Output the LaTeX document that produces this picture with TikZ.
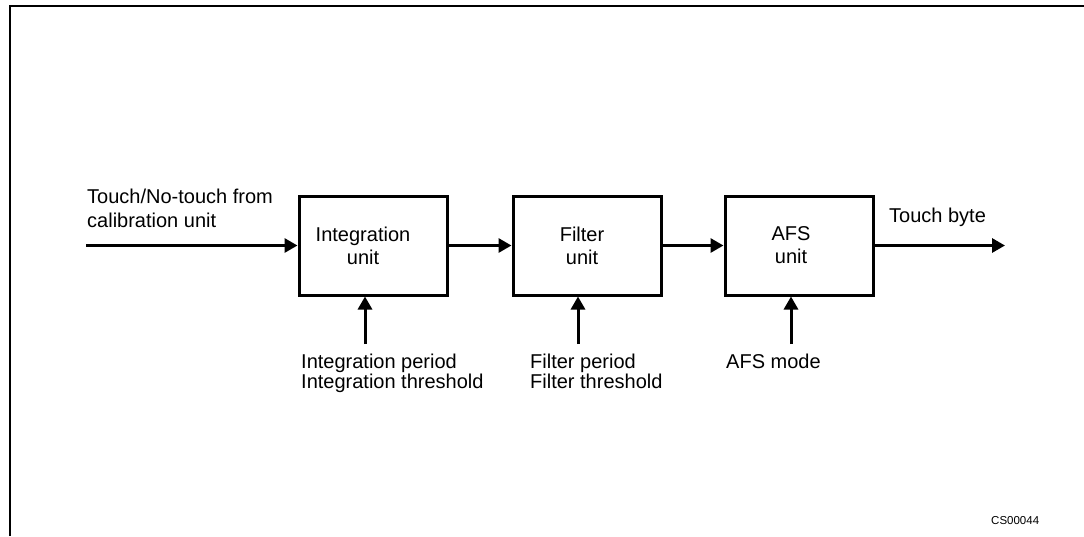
\documentclass[tikz,border=0pt]{standalone}
\usepackage{fontspec}
\setmainfont{Liberation Sans}
\usetikzlibrary{arrows.meta,positioning,calc}
\tikzset{
  unitbox/.style={draw, line width=3pt, minimum width=148pt, minimum height=99pt, inner sep=0pt},
  boxtext/.style={align=center, inner sep=0pt, font=\fontsize{20}{23}\selectfont},
  lbl/.style={align=left, inner sep=0pt, anchor=north west, font=\fontsize{20}{19.5}\selectfont},
  flow/.style={line width=3pt, -{Triangle[length=13pt,width=14pt]}},
  frame/.style={line width=2.2pt}
}
\begin{document}
\begin{tikzpicture}[x=1pt,y=-1pt]
\useasboundingbox (0,0) rectangle (1084,536);
% frame (partly visible)
\draw[frame] (10,536) -- (10,6) -- (1084,6);
% boxes
\node[unitbox] (b1) at (373,245.5) {};
\node[unitbox] (b2) at (587,245.5) {};
\node[unitbox] (b3) at (799,245.5) {};
\node[boxtext] (t1) at ([xshift=-10pt]b1.center) {Integration\\unit};
\node[boxtext] (t2) at ([xshift=-5pt]b2.center) {Filter\\unit};
\node[boxtext] (t3) at ([xshift=-8pt]b3.center) {AFS\\unit};
% input / output
\coordinate (in) at (86,245.5);
\coordinate (out) at (1005,245.5);
\draw[flow] (in) -- (b1.west);
\draw[flow] (b1.east) -- (b2.west);
\draw[flow] (b2.east) -- (b3.west);
\draw[flow] (b3.east) -- (out);
\node[lbl, font=\fontsize{20}{24}\selectfont] (lin) at (87,189) {Touch/No-touch from\\calibration unit};
\node[lbl] (lout) at (889,208) {Touch byte};
% parameter inputs
\coordinate (p1) at (365,344);
\coordinate (p2) at (578,344);
\coordinate (p3) at (791,344);
\draw[flow] (p1) -- (p1 |- b1.south);
\draw[flow] (p2) -- (p2 |- b2.south);
\draw[flow] (p3) -- (p3 |- b3.south);
\node[lbl] (l1) at (301,354) {Integration period\\Integration threshold};
\node[lbl] (l2) at (530,354) {Filter period\\Filter threshold};
\node[lbl] (l3) at (726,354) {AFS mode};
% figure code
\node[inner sep=0pt, anchor=base west, font=\fontsize{11.5}{12}\selectfont] (code) at (991,524) {CS00044};
\end{tikzpicture}
\end{document}
